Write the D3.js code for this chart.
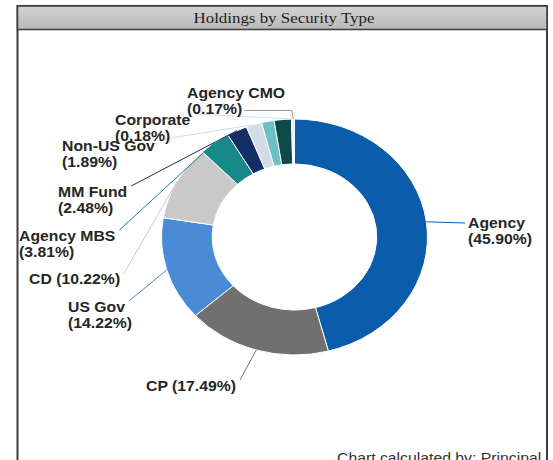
<!DOCTYPE html>
<html>
<head>
<meta charset="utf-8">
<script src="https://cdn.jsdelivr.net/npm/d3@7"></script>
<style>
  body { margin: 0; background: #fff; }
  .lbl { font-family: "Liberation Sans", Arial, sans-serif; font-weight: bold; font-size: 14px; fill: #262626; }
</style>
</head>
<body>
<div class="chart"></div>
<script>
// DATA ------------------------------
const categories = ["Agency", "CP", "US Gov", "CD", "Agency MBS", "MM Fund", "Non-US Gov", "", "", "Corporate", "Agency CMO"];
const shares = [45.90, 17.49, 14.22, 10.22, 3.81, 2.48, 1.89, 1.53, 2.11, 0.18, 0.17];
const sliceColors = ["#0b5cab", "#707070", "#4a8bd6", "#c9c9c9", "#17898b", "#142f66", "#d3dbe6", "#6dbfc3", "#0e4b48", "#c6e6ee", "#4cc3d9"];

// label layout (left x, first baseline) – empty name = no label
const labelX = [468, 146, 68, 29, 19, 58, 62, null, null, 115, 187];
const labelY = [228, 391, 312, 284, 241, 197, 151, null, null, 125, 98];
const oneLine = ["CP", "CD"];

// CHART INIT ------------------------
const W = 553, H = 460;
const sx = 1.127; // picture is stretched sideways
const cx = 294.5, cy = 237, R = 118, r = 73;

const svg = d3.select(".chart")
  .append("svg")
  .attr("width", W)
  .attr("height", H);

const defs = svg.append("defs");
const grad = defs.append("linearGradient").attr("id", "bar").attr("x1", 0).attr("x2", 0).attr("y1", 0).attr("y2", 1);
grad.append("stop").attr("offset", "0%").attr("stop-color", "#d2d2d2");
grad.append("stop").attr("offset", "100%").attr("stop-color", "#b9b9b9");

// frame + title bar
svg.append("rect")
  .attr("x", 17.5).attr("y", 6).attr("width", 529.5).attr("height", 480)
  .attr("fill", "#fff").attr("stroke", "#3c3c3c").attr("stroke-width", 2);
svg.append("rect")
  .attr("x", 17.5).attr("y", 6).attr("width", 529.5).attr("height", 23.5)
  .attr("fill", "url(#bar)").attr("stroke", "#3c3c3c").attr("stroke-width", 1.5);
svg.append("text")
  .attr("transform", `translate(284, 23) scale(${sx},1)`)
  .attr("text-anchor", "middle")
  .style("font-family", "'Liberation Serif', 'Times New Roman', serif")
  .style("font-size", "15px")
  .style("fill", "#1e1e1e")
  .text("Holdings by Security Type");

// PIE --------------------------------
const pie = d3.pie().sort(null).value(d => d.v);
const arcs = pie(categories.map((c, i) => ({name: c, v: shares[i], i: i})));

const arc = d3.arc().innerRadius(r).outerRadius(R);
const edge = d3.arc().innerRadius(R).outerRadius(R);

const g = svg.append("g")
  .attr("transform", `translate(${cx},${cy}) scale(${sx},1)`);

g.selectAll(".slice")
  .data(arcs)
  .enter()
  .append("path")
  .attr("class", "slice")
  .attr("d", arc)
  .attr("fill", d => sliceColors[d.data.i])
  .attr("stroke", "#fff")
  .attr("stroke-width", 1)
  .attr("vector-effect", "non-scaling-stroke");

// LABELS -----------------------------
const labelled = arcs.filter(d => d.data.name !== "");

labelled.forEach(d => {
  const i = d.data.i;
  const x = labelX[i], y = labelY[i];
  const pct = "(" + d.data.v.toFixed(2) + "%)";
  const t = svg.append("text")
    .attr("class", "lbl")
    .attr("transform", `translate(${x},${y}) scale(${sx},1)`);
  let w1, w2 = 0;
  if (oneLine.includes(d.data.name)) {
    t.text(d.data.name + " " + pct);
    w1 = t.node().getComputedTextLength() * sx;
  } else {
    const a = t.append("tspan").attr("x", 0).attr("y", 0).text(d.data.name);
    const b = t.append("tspan").attr("x", 0).attr("y", 16.5).text(pct);
    w1 = a.node().getComputedTextLength() * sx;
    w2 = b.node().getComputedTextLength() * sx;
  }

  // connector target on the outer edge at mid-angle
  const c = edge.centroid(d);
  const tx = cx + c[0] * sx, ty = cy + c[1];
  let pts;
  if (d.data.name === "Agency CMO") {
    const sy = y + 16.5 - 4;
    pts = [[x + w2 + 2, sy], [tx - 2, sy], [tx - 0.5, ty]];
  } else if (x > cx) {
    pts = [[x - 3, y - 5], [tx, ty]];
  } else {
    pts = [[x + w1 + 4, y - 11], [tx, ty]];
  }
  svg.append("path")
    .attr("d", d3.line()(pts))
    .attr("fill", "none")
    .attr("stroke", d.data.name === "Agency CMO" ? "#8f9a9a" : sliceColors[i])
    .attr("stroke-width", 1);
});

// footer
svg.append("text")
  .attr("transform", `translate(337, 463) scale(${sx},1)`)
  .style("font-family", "'Liberation Sans', Arial, sans-serif")
  .style("font-size", "14px")
  .style("fill", "#333")
  .text("Chart calculated by: Principal");
</script>
</body>
</html>
